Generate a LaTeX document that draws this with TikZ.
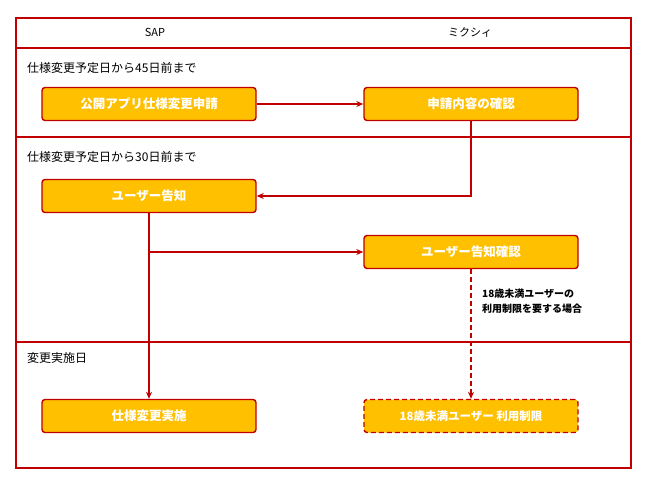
\documentclass[tikz,border=0pt]{standalone}
\usepackage{fontspec}
\setmainfont{Noto Sans CJK JP}
\usetikzlibrary{arrows.meta}
\definecolor{rd}{HTML}{C00000}
\definecolor{og}{HTML}{FFC000}
\begin{document}
\begin{tikzpicture}[x=1pt,y=-1pt,
 box/.style={draw=rd,line width=1.4pt,fill=og,rounded corners=3pt,minimum width=214pt,minimum height=33pt,text=white,font=\fontsize{12.5}{14}\selectfont\bfseries,inner sep=0pt},
 arr/.style={draw=rd,line width=1.4pt,-{Stealth[length=7pt,width=6pt]}},
 lbl/.style={anchor=west,font=\fontsize{12}{14}\selectfont,inner sep=0pt}]
\useasboundingbox (0,0) rectangle (650,488);
\draw[rd,line width=1.4pt] (16,18) rectangle (631,468);
\draw[rd,line width=1.4pt] (16,48) -- (631,48) (16,137) -- (631,137) (16,342) -- (631,342);
\node[font=\fontsize{11}{13}\selectfont] (h1) at (155,32) {SAP};
\node[font=\fontsize{11}{13}\selectfont] (h2) at (470,32) {ミクシィ};
\node[lbl] (r1) at (27,68) {仕様変更予定日から45日前まで};
\node[lbl] (r2) at (27,157) {仕様変更予定日から30日前まで};
\node[lbl] (r3) at (27,358) {変更実施日};
\node[box] (a) at (149,104) {公開アプリ仕様変更申請};
\node[box] (b) at (471,104) {申請内容の確認};
\node[box] (c) at (149,196) {ユーザー告知};
\node[box] (d) at (471,252) {ユーザー告知確認};
\node[box] (e) at (149,416) {仕様変更実施};
\node[box,dashed,dash pattern=on 5pt off 3pt] (f) at (471,416) {\fontsize{11.5}{13}\selectfont 18歳未満ユーザー 利用制限};
\coordinate (j) at (149,252);
\draw[arr] (a) -- (b);
\draw[arr] (b.south) |- (c.east);
\draw[arr] (c.south) -- (e.north);
\draw[arr] (j) -- (d.west);
\draw[arr,dashed,dash pattern=on 5pt off 3pt] (d.south) -- (f.north);
\node[anchor=north west,align=left,font=\fontsize{10}{15}\selectfont\bfseries,inner sep=0pt] (cond) at (482,289) {18歳未満ユーザーの\\利用制限を要する場合};
\end{tikzpicture}
\end{document}
